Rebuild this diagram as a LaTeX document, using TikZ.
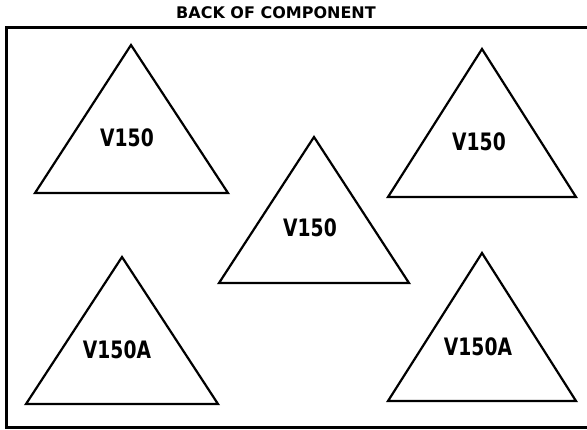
\documentclass[tikz,border=0pt]{standalone}
\usepackage{fontspec}
\setmainfont{DejaVu Sans}
\newfontfamily\lblfont{DejaVu Sans}[FakeStretch=0.78]
\usetikzlibrary{positioning}

\begin{document}
\begin{tikzpicture}[x=1pt, y=-1pt,
    frame/.style={line width=3pt},
    tri/.style={line width=2.2pt, line join=miter},
    lbl/.style={font=\lblfont\bfseries\fontsize{24}{24}\selectfont, inner sep=0pt},
    title/.style={font=\bfseries\fontsize{16}{16}\selectfont, inner sep=0pt}]
    \useasboundingbox (0,0) rectangle (587,429);
    \clip (0,0) rectangle (587,429);
    % heading and outline of the part
    \node[title] (head) at (276,13) {BACK OF COMPONENT};
    \draw[frame] (595,27) -- (6,27) -- (6,427) -- (595,427);
    % top row
    \draw[tri] (131,45) -- (228,193) -- (35,193) -- cycle;
    \node[lbl] (v1) at (127,138) {V150};
    \draw[tri] (482,49) -- (576,197) -- (388,197) -- cycle;
    \node[lbl] (v3) at (479,142) {V150};
    % middle
    \draw[tri] (314,137) -- (409,283) -- (219,283) -- cycle;
    \node[lbl] (v2) at (310,228) {V150};
    % bottom row
    \draw[tri] (122,257) -- (218,404) -- (26,404) -- cycle;
    \node[lbl] (v4) at (117,350) {V150A};
    \draw[tri] (482,253) -- (576,401) -- (388,401) -- cycle;
    \node[lbl] (v5) at (478,347) {V150A};
\end{tikzpicture}
\end{document}
